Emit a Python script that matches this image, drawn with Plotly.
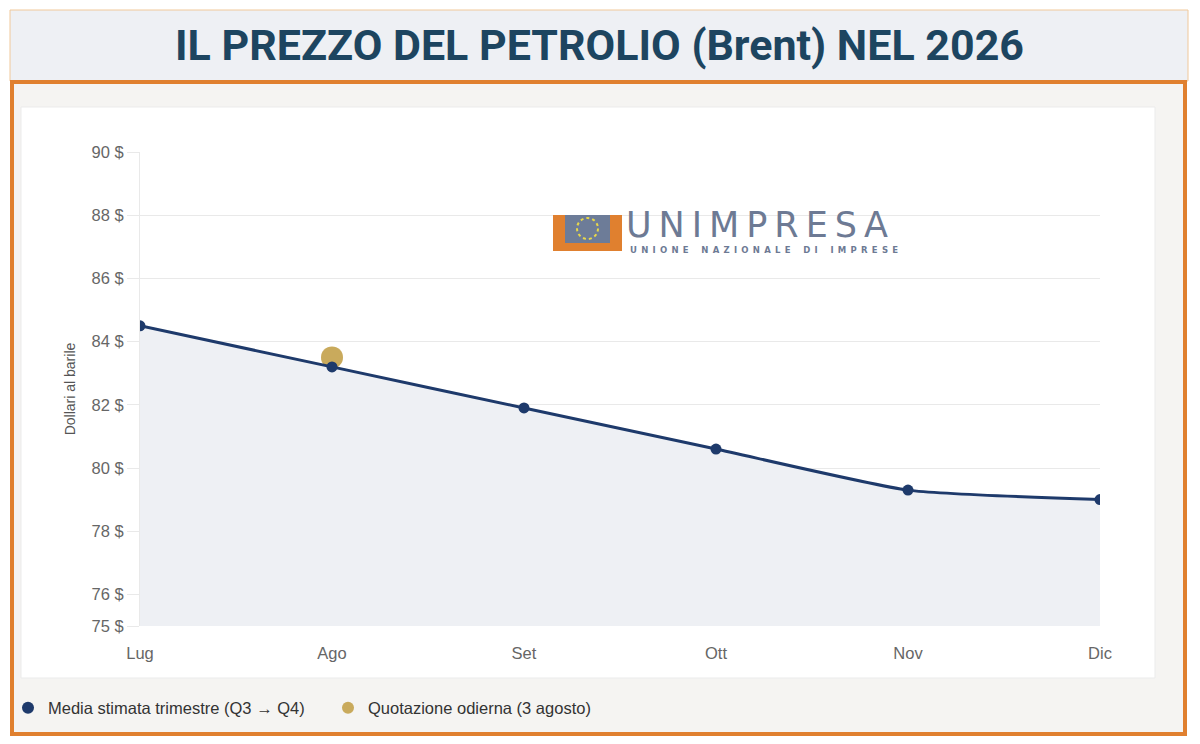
import plotly.graph_objects as go

# ------------------------------------------------------------------ dati
mesi = ["Lug", "Ago", "Set", "Ott", "Nov", "Dic"]
media_stimata = [84.5, 83.2, 81.9, 80.6, 79.3, 79.0]
quotazione_mese = ["Ago"]
quotazione_valore = [83.5]
y_ticks = [75, 76, 78, 80, 82, 84, 86, 88, 90]
y_labels = [f"{v} $" for v in y_ticks]

NAVY = "#1e3a6b"
GOLD = "#c9aa5c"
ORANGE = "#e0802f"
LOGO_GREY = "#6d7a94"

# la pagina html ha 8px di margine: la figura parte da (8, 8)
OFF = 8
W, H = 1200 - OFF, 744 - OFF
# bordi della zona grafico, in pixel della finestra
X_LEFT, X_RIGHT, Y_TOP, Y_BOTTOM = 140, 1100, 152, 626
L, R = X_LEFT - OFF, W - (X_RIGHT - OFF)
T, B = Y_TOP - OFF, H - (Y_BOTTOM - OFF)
PW, PH = W - L - R, H - T - B


def px(x):
    return (x - X_LEFT) / PW


def py(y):
    return (Y_BOTTOM - y) / PH


def cx(x):
    return (x - OFF) / W


def cy(y):
    return 1 - (y - OFF) / H


def spaziato(testo, sep):
    # lettere distanziate come nel logo
    return (sep * 3).join(sep.join(parola) for parola in testo.split())


fig = go.Figure()

# area sotto la curva
fig.add_trace(go.Scatter(
    x=mesi, y=media_stimata, mode="lines", fill="tozeroy",
    fillcolor="#eef0f4", line=dict(width=0, shape="spline", smoothing=0.5),
    hoverinfo="skip", showlegend=False,
))
# quotazione odierna
fig.add_trace(go.Scatter(
    x=quotazione_mese, y=quotazione_valore, mode="markers",
    marker=dict(size=22, color=GOLD), showlegend=False,
    name="Quotazione odierna (3 agosto)",
))
# media stimata
fig.add_trace(go.Scatter(
    x=mesi, y=media_stimata, mode="lines+markers",
    line=dict(color=NAVY, width=3, shape="spline", smoothing=0.5),
    marker=dict(size=11, color=NAVY), showlegend=False,
    name="Media stimata trimestre (Q3 → Q4)",
))
# voci di legenda (solo pallini), una legenda per voce
fig.add_trace(go.Scatter(
    x=[None], y=[None], mode="markers", marker=dict(size=15, color=NAVY),
    name="Media stimata trimestre (Q3 → Q4)", legend="legend",
))
fig.add_trace(go.Scatter(
    x=[None], y=[None], mode="markers", marker=dict(size=15, color=GOLD),
    name="Quotazione odierna (3 agosto)", legend="legend2",
))


def path(points):
    return "M " + " L ".join(f"{px(a):.5f},{py(b):.5f}" for a, b in points) + " Z"


shapes = [
    # riquadro titolo
    dict(type="rect", xref="paper", yref="paper", layer="below",
         x0=px(10), x1=px(1188), y0=py(10), y1=py(81),
         fillcolor="#eef0f4", line=dict(color="#f0c89a", width=1)),
    # cornice arancione
    dict(type="rect", xref="paper", yref="paper", layer="below",
         x0=px(12), x1=px(1185), y0=py(82), y1=py(734),
         fillcolor="#f5f4f2", line=dict(color=ORANGE, width=4)),
    # scheda bianca
    dict(type="rect", xref="paper", yref="paper", layer="below",
         x0=px(21), x1=px(1155), y0=py(107), y1=py(678),
         fillcolor="white", line=dict(color="#ebebeb", width=1)),
    # logo: U arancione
    dict(type="path", xref="paper", yref="paper", layer="above",
         path=path([(553, 215), (565, 215), (565, 243), (610, 243),
                    (610, 215), (622, 215), (622, 251), (553, 251)]),
         fillcolor=ORANGE, line=dict(width=0)),
    dict(type="rect", xref="paper", yref="paper", layer="above",
         x0=px(565), x1=px(610), y0=py(215), y1=py(243),
         fillcolor="#6d7c98", line=dict(width=0)),
    dict(type="circle", xref="paper", yref="paper", layer="above",
         x0=px(577), x1=px(598), y0=py(218), y1=py(239),
         line=dict(color="#e8d84a", width=2, dash="dot")),
]

annotations = [
    dict(text="<b>IL PREZZO DEL PETROLIO (Brent) NEL 2026</b>",
         xref="paper", yref="paper", x=px(599), y=py(45),
         xanchor="center", yanchor="middle", showarrow=False,
         font=dict(family="Roboto", size=43, color="#1d4560")),
    dict(text="\u2009".join("UNIMPRESA"),
         xref="paper", yref="paper",
         x=px(624), y=py(225), xanchor="left", yanchor="middle", showarrow=False,
         font=dict(family="DejaVu Sans", size=35, color=LOGO_GREY)),
    dict(text="<b>" + spaziato("UNIONE NAZIONALE DI IMPRESE", "\u2002") + "</b>",
         xref="paper", yref="paper", x=px(628), y=py(250),
         xanchor="left", yanchor="middle", showarrow=False,
         font=dict(family="DejaVu Sans", size=8.5, color=LOGO_GREY)),
]

legend_style = dict(orientation="h", yanchor="middle", xanchor="left",
                    xref="container", yref="container",
                    bgcolor="rgba(0,0,0,0)", font=dict(size=16.5, color="#333333"),
                    itemsizing="constant", itemwidth=30)

fig.update_layout(
    width=W, height=H,
    margin=dict(l=L, r=R, t=T, b=B),
    paper_bgcolor="white",
    plot_bgcolor="rgba(0,0,0,0)",
    font=dict(family="Liberation Sans", color="#666666", size=16),
    shapes=shapes,
    annotations=annotations,
    showlegend=True,
    legend=dict(x=cx(6), y=cy(708), **legend_style),
    legend2=dict(x=cx(328), y=cy(708), **legend_style),
    xaxis=dict(
        type="category", range=[0, 5], showgrid=False, zeroline=False,
        showline=False, ticks="outside", ticklen=12, tickcolor="rgba(0,0,0,0)",
        tickfont=dict(size=16.5, color="#666666"), automargin=False,
    ),
    yaxis=dict(
        range=[75, 90], tickvals=y_ticks, ticktext=y_labels,
        showgrid=True, gridcolor="#e9e9e9", gridwidth=1, zeroline=False,
        showline=True, linecolor="#e9e9e9", linewidth=1,
        ticks="outside", ticklen=12, tickcolor="#e9e9e9",
        tickfont=dict(size=16.5, color="#666666"), automargin=False,
        title=dict(text="Dollari al barile", standoff=12,
                   font=dict(size=14, color="#555555")),
    ),
)

fig.write_html("out.html")
